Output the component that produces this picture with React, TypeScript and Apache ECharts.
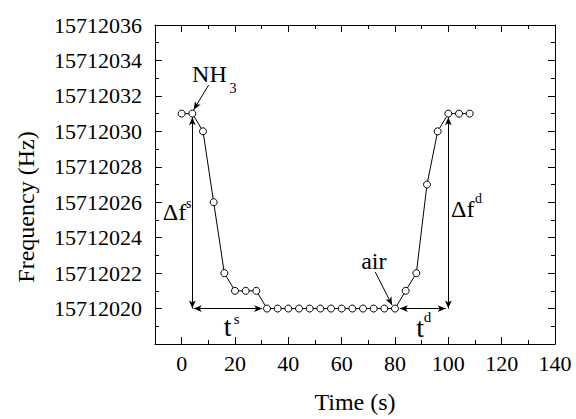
import React, { useEffect, useRef } from 'react';
import * as echarts from 'echarts';

const times = [0, 4, 8, 12, 16, 20, 24, 28, 32, 36, 40, 44, 48, 52, 56, 60, 64, 68, 72, 76, 80, 84, 88, 92, 96, 100, 104, 108];
const freqs = [
  15712031, 15712031, 15712030, 15712026, 15712022, 15712021, 15712021, 15712021,
  15712020, 15712020, 15712020, 15712020, 15712020, 15712020, 15712020, 15712020,
  15712020, 15712020, 15712020, 15712020, 15712020,
  15712021, 15712022, 15712027, 15712030, 15712031, 15712031, 15712031,
];
const xMajorTicks = [0, 20, 40, 60, 80, 100, 120, 140];
const xMinorTicks = [10, 30, 50, 70, 90, 110, 130];
const yMin = 15712018;
const yMax = 15712036;

// arrows: [x1, y1, x2, y2, arrowAtStart, arrowAtEnd]
const arrows: [number, number, number, number, boolean, boolean][] = [
  [4, 15712020, 4, 15712030.8, true, true],
  [4.5, 15712020, 30.2, 15712020, true, true],
  [100, 15712020, 100, 15712030.8, true, true],
  [81.8, 15712020, 99, 15712020, true, true],
  [10.1, 15712032.61, 4.5, 15712031.22, false, true],
  [72.6, 15712022.06, 78.9, 15712020.2, false, true],
];

// annotation texts: [text, x, y, fontSize]
const labels: [string, number, number, number][] = [
  ['NH', 3.9, 15712033.23, 24],
  ['3', 17.9, 15712032.43, 14],
  ['Δf', -7.1, 15712025.46, 24],
  ['s', 1.6, 15712025.9, 14],
  ['Δf', 101, 15712025.62, 24],
  ['d', 110, 15712026.22, 14],
  ['t', 15.75, 15712019.0, 28],
  ['s', 19.5, 15712019.43, 15],
  ['t', 88, 15712018.93, 28],
  ['d', 90.8, 15712019.51, 15],
  ['air', 67.3, 15712022.7, 24],
];

const FONT = "'Liberation Serif', 'Times New Roman', serif";

export default function App() {
  const ref = useRef<HTMLDivElement>(null);
  useEffect(() => {
    document.body.style.margin = '0';
    if (!ref.current) return;
    const chart = echarts.init(ref.current, null, { renderer: 'svg' });
    const black = '#000';
    const xBase = (pos: 'bottom' | 'top', minor: boolean, showLabels: boolean) => ({
      type: 'value',
      position: pos,
      min: -10,
      max: 140,
      interval: 10,
      axisLine: { show: !minor, onZero: false, lineStyle: { color: black, width: 1 } },
      axisTick: {
        show: true,
        inside: true,
        length: minor ? 4 : 7,
        customValues: minor ? xMinorTicks : xMajorTicks,
        lineStyle: { color: black, width: 1 },
      },
      axisLabel: {
        show: showLabels,
        customValues: xMajorTicks,
        margin: 8,
        color: black,
        fontSize: 22,
        fontFamily: FONT,
      },
      splitLine: { show: false },
      ...(showLabels
        ? {
            name: 'Time (s)',
            nameLocation: 'middle',
            nameGap: 46,
            nameTextStyle: { fontSize: 24, fontFamily: FONT, color: black },
          }
        : {}),
    });
    const yBase = (pos: 'left' | 'right', showLabels: boolean) => ({
      type: 'value',
      position: pos,
      min: yMin,
      max: yMax,
      interval: 2,
      axisLine: { show: true, onZero: false, lineStyle: { color: black, width: 1 } },
      axisTick: { show: true, inside: true, length: 7, lineStyle: { color: black, width: 1 } },
      minorTick: { show: true, splitNumber: 2, length: 4, lineStyle: { color: black, width: 1 } },
      axisLabel: {
        show: showLabels,
        margin: 13,
        color: black,
        fontSize: 22,
        fontFamily: FONT,
        formatter: (v: number) => (v === yMin ? '' : String(v)),
      },
      splitLine: { show: false },
      minorSplitLine: { show: false },
    });

    const markLineData = arrows.map(([x1, y1, x2, y2, s1, s2]) => [
      { coord: [x1, y1], symbol: s1 ? 'arrow' : 'none', symbolSize: [5, 8] },
      { coord: [x2, y2], symbol: s2 ? 'arrow' : 'none', symbolSize: [5, 8] },
    ]);

    chart.setOption({
      animation: false,
      grid: { left: 155, right: 21, top: 25, bottom: 70, containLabel: false },
      xAxis: [xBase('bottom', false, true), xBase('bottom', true, false), xBase('top', false, false), xBase('top', true, false)],
      yAxis: [yBase('left', true), yBase('right', false)],
      series: [
        {
          type: 'line',
          xAxisIndex: 0,
          yAxisIndex: 0,
          data: times.map((t, i) => [t, freqs[i]]),
          symbol: 'circle',
          symbolSize: 7,
          lineStyle: { color: black, width: 1 },
          itemStyle: { color: '#fff', borderColor: black, borderWidth: 1 },
          silent: true,
          z: 3,
          markLine: {
            silent: true,
            animation: false,
            symbol: ['none', 'none'],
            label: { show: false },
            lineStyle: { color: black, width: 1, type: 'solid' },
            emphasis: { disabled: true },
            data: markLineData,
          },
        },
      ],
    });

    const graphic: any[] = labels.map(([text, x, y, size]) => {
      const [px, py] = chart.convertToPixel({ xAxisIndex: 0, yAxisIndex: 0 }, [x, y]) as number[];
      return {
        type: 'text',
        x: px,
        y: py,
        silent: true,
        style: {
          text,
          fontSize: size,
          fontFamily: FONT,
          fill: black,
          align: 'left',
          verticalAlign: 'middle',
        },
      };
    });
    graphic.push({
      type: 'text',
      x: 26,
      y: 207,
      rotation: Math.PI / 2,
      silent: true,
      style: {
        text: 'Frequency (Hz)',
        fontSize: 24,
        fontFamily: FONT,
        fill: black,
        align: 'center',
        verticalAlign: 'middle',
      },
    });
    chart.setOption({ graphic });

    return () => chart.dispose();
  }, []);
  return <div ref={ref} style={{ width: 576, height: 419 }} />;
}
